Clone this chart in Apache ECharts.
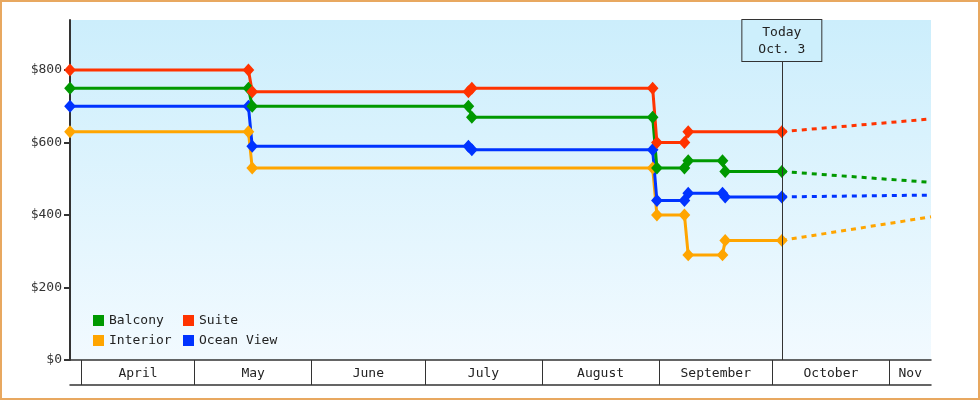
<!DOCTYPE html>
<html><head><meta charset="utf-8">
<script src="https://cdn.jsdelivr.net/npm/echarts@6/dist/echarts.min.js"></script>
<style>
html,body{margin:0;padding:0;background:#fff}
#wrap{position:relative;width:980px;height:400px}
#c{width:980px;height:400px}
#frame{position:absolute;left:0;top:0;width:980px;height:400px;box-sizing:border-box;border:2px solid #E8A860;pointer-events:none}
</style></head><body>
<div id="wrap"><div id="c"></div><div id="frame"></div></div>
<script>
// ---- data ----
const xMin = '2013-03-29';
const xMax = '2013-11-12';
const today = '2013-10-03 12:00';
const todayLabel = ['Today', 'Oct. 3'];

const balcony = [
  ['2013-03-29', 750], ['2013-05-15 06:00', 750], ['2013-05-16 06:00', 700],
  ['2013-07-12 12:00', 700], ['2013-07-13 10:00', 670], ['2013-08-30 07:00', 670],
  ['2013-08-31 10:00', 530], ['2013-09-07 17:00', 530], ['2013-09-08 17:00', 550],
  ['2013-09-17 19:00', 550], ['2013-09-18 12:00', 520], ['2013-10-03 12:00', 520]
];
const suite = [
  ['2013-03-29', 800], ['2013-05-15 06:00', 800], ['2013-05-16 06:00', 740],
  ['2013-07-12 12:00', 740], ['2013-07-13 10:00', 750], ['2013-08-30 07:00', 750],
  ['2013-08-31 10:00', 600], ['2013-09-07 17:00', 600], ['2013-09-08 17:00', 630],
  ['2013-10-03 12:00', 630]
];
const interior = [
  ['2013-03-29', 630], ['2013-05-15 06:00', 630], ['2013-05-16 06:00', 530],
  ['2013-08-30 07:00', 530], ['2013-08-31 10:00', 400], ['2013-09-07 17:00', 400],
  ['2013-09-08 17:00', 290], ['2013-09-17 19:00', 290], ['2013-09-18 12:00', 330],
  ['2013-10-03 12:00', 330]
];
const oceanView = [
  ['2013-03-29', 700], ['2013-05-15 06:00', 700], ['2013-05-16 06:00', 590],
  ['2013-07-12 12:00', 590], ['2013-07-13 10:00', 580], ['2013-08-30 07:00', 580],
  ['2013-08-31 10:00', 440], ['2013-09-07 17:00', 440], ['2013-09-08 17:00', 460],
  ['2013-09-17 19:00', 460], ['2013-09-18 12:00', 450], ['2013-10-03 12:00', 450]
];
const balconyForecast = [['2013-10-03 12:00', 520], ['2013-11-12', 490]];
const suiteForecast = [['2013-10-03 12:00', 630], ['2013-11-12', 665]];
const interiorForecast = [['2013-10-03 12:00', 330], ['2013-11-12', 395]];
const oceanViewForecast = [['2013-10-03 12:00', 450], ['2013-11-12', 455]];

const monthStarts = ['2013-04-01', '2013-05-01', '2013-06-01', '2013-07-01', '2013-08-01', '2013-09-01', '2013-10-01', '2013-11-01'];
const monthLabels = ['April', 'May', 'June', 'July', 'August', 'September', 'October', 'Nov'];
const yTicks = [0, 200, 400, 600, 800];
const yMax = 938;

// ---- helpers ----
function ts(s) {
  const parts = s.split(' ');
  const d = parts[0].split('-').map(Number);
  const h = (parts[1] || '0:0').split(':').map(Number);
  return Date.UTC(d[0], d[1] - 1, d[2], h[0], h[1]);
}
const conv = arr => arr.map(p => [ts(p[0]), p[1]]);

const minT = ts(xMin), maxT = ts(xMax);
const tickT = monthStarts.map(ts);
const labelT = tickT.map((t, i) => (t + (i + 1 < tickT.length ? tickT[i + 1] : maxT)) / 2);

const FONT = "'DejaVu Sans Mono', monospace";
const COL = { 'Balcony': '#009900', 'Suite': '#FF3300', 'Interior': '#FFA500', 'Ocean View': '#0033FF' };

function mainSeries(name, data) {
  return {
    name, type: 'line', data: conv(data), z: 3,
    symbol: 'diamond', symbolSize: [9, 10], showSymbol: true,
    lineStyle: { width: 3, color: COL[name] },
    itemStyle: { color: COL[name], borderColor: COL[name], borderWidth: 2 },
    emphasis: { disabled: true }
  };
}
function forecastSeries(name, data) {
  return {
    name, type: 'line', data: conv(data), z: 2,
    showSymbol: false, symbol: 'none',
    lineStyle: { width: 3, color: COL[name], type: [5, 5] },
    itemStyle: { color: COL[name], borderWidth: 0 },
    emphasis: { disabled: true }
  };
}

const chart = echarts.init(document.getElementById('c'), null, { renderer: 'canvas' });
const legendCommon = {
  orient: 'vertical', top: 314, padding: 0, itemGap: 7,
  icon: 'rect', itemWidth: 11, itemHeight: 11,
  textStyle: { fontFamily: FONT, fontSize: 13, color: '#222', lineHeight: 13 },
  itemStyle: { borderWidth: 0 }, selectedMode: false
};
chart.setOption({
  animation: false,
  textStyle: { fontFamily: FONT },
  grid: {
    left: 70, right: 49, top: 20, bottom: 40, show: true, borderWidth: 0,
    backgroundColor: new echarts.graphic.LinearGradient(0, 0, 0, 1, [
      { offset: 0, color: '#CCEEFC' }, { offset: 1, color: '#F2FAFF' }
    ])
  },
  legend: [
    Object.assign({ left: 93, data: ['Balcony', 'Interior'] }, legendCommon),
    Object.assign({ left: 183, data: ['Suite', 'Ocean View'] }, legendCommon)
  ],
  xAxis: [{
    type: 'value', min: minT, max: maxT,
    axisLine: { show: true, onZero: false, lineStyle: { color: '#333', width: 1.5 } },
    axisTick: { show: true, customValues: tickT, length: 25, inside: false, lineStyle: { color: '#333', width: 1 } },
    axisLabel: {
      show: true, customValues: labelT, margin: 7,
      fontFamily: FONT, fontSize: 13, color: '#222',
      formatter: function (v) {
        let best = 0, bd = Infinity;
        labelT.forEach((t, i) => { const d = Math.abs(t - v); if (d < bd) { bd = d; best = i; } });
        return monthLabels[best];
      }
    },
    splitLine: { show: false }
  }, {
    type: 'value', min: minT, max: maxT, position: 'bottom', offset: 25,
    axisLine: { show: true, onZero: false, lineStyle: { color: '#333', width: 1.5 } },
    axisTick: { show: false }, axisLabel: { show: false }, splitLine: { show: false }
  }],
  yAxis: {
    type: 'value', min: 0, max: yMax,
    axisLine: { show: true, onZero: false, lineStyle: { color: '#333', width: 2 } },
    axisTick: { show: true, customValues: yTicks, length: 6, lineStyle: { color: '#333', width: 2 } },
    axisLabel: {
      customValues: yTicks, margin: 8, fontFamily: FONT, fontSize: 13, color: '#333',
      formatter: v => '$' + v
    },
    splitLine: { show: false }
  },
  series: [
    {
      type: 'line', data: [], z: 1, silent: true,
      markLine: {
        silent: true, symbol: 'none', animation: false,
        lineStyle: { color: '#333', width: 1, type: 'solid' },
        label: {
          show: true, position: 'end', distance: -41,
          formatter: todayLabel.join('\n'),
          fontFamily: FONT, fontSize: 13, color: '#222', lineHeight: 17,
          backgroundColor: '#CDEFFC', borderColor: '#333', borderWidth: 1,
          padding: [4, 16, 3, 16]
        },
        emphasis: { disabled: true },
        data: [[{ coord: [ts(today), 0] }, { coord: [ts(today), yMax] }]]
      }
    },
    forecastSeries('Interior', interiorForecast),
    forecastSeries('Ocean View', oceanViewForecast),
    forecastSeries('Balcony', balconyForecast),
    forecastSeries('Suite', suiteForecast),
    mainSeries('Interior', interior),
    mainSeries('Ocean View', oceanView),
    mainSeries('Balcony', balcony),
    mainSeries('Suite', suite)
  ]
});
</script>
</body></html>
